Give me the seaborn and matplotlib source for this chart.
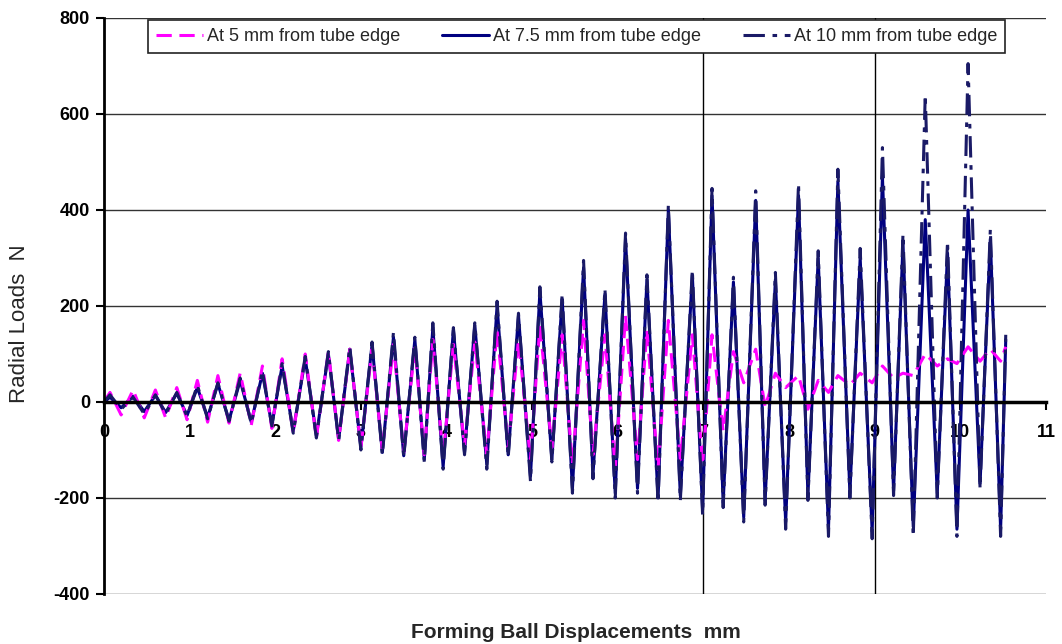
import numpy as np
import pandas as pd
import matplotlib
matplotlib.use("Agg")
import matplotlib.pyplot as plt
import seaborn as sns

# ---------------- data ----------------
x_start, x_end = 0.0, 10.53
x_peak = [0.07, 0.34, 0.60, 0.85, 1.09, 1.33, 1.59, 1.85, 2.08, 2.35, 2.62, 2.87, 3.13, 3.38,
          3.63, 3.84, 4.08, 4.33, 4.59, 4.84, 5.09, 5.35, 5.60, 5.85, 6.09, 6.34, 6.59, 6.87,
          7.10, 7.35, 7.61, 7.84, 8.11, 8.34, 8.57, 8.83, 9.09, 9.33, 9.59, 9.85, 10.09, 10.35]
x_trough = [0.20, 0.47, 0.72, 0.97, 1.21, 1.46, 1.72, 1.96, 2.21, 2.48, 2.74, 3.00, 3.25, 3.50,
            3.74, 3.96, 4.21, 4.47, 4.72, 4.98, 5.23, 5.47, 5.71, 5.97, 6.23, 6.47, 6.73, 6.99,
            7.23, 7.47, 7.72, 7.96, 8.22, 8.46, 8.71, 8.97, 9.22, 9.45, 9.73, 9.96, 10.23, 10.47]

# At 5 mm from tube edge
s5_start, s5_end = 0, 115
s5_peak = [20, 25, 25, 30, 45, 55, 60, 75, 90, 100, 105, 110, 110, 120, 115, 130, 120, 125, 150, 130,
           160, 140, 170, 140, 180, 150, 170, 140, 140, 105, 110, 60, 55, 45, 55, 60, 75, 60, 100, 90,
           115, 110]
s5_trough = [-27, -33, -33, -37, -42, -44, -48, -55, -65, -75, -80, -95, -100, -105, -110, -115, -90,
             -110, -95, -120, -95, -130, -110, -140, -120, -140, -120, -130, -60, 40, -10, 30, -15, 20,
             35, 40, 50, 55, 75, 80, 85, 85]

# At 7.5 mm from tube edge
s75_start, s75_end = 0, 130
s75_peak = [10, 12, 14, 18, 30, 38, 45, 60, 75, 90, 100, 110, 120, 135, 130, 155, 150, 160, 200, 180,
            230, 215, 280, 225, 340, 255, 400, 265, 430, 250, 420, 255, 430, 300, 460, 300, 470, 330,
            380, 310, 400, 340]
s75_trough = [-12, -20, -22, -28, -32, -38, -42, -48, -60, -70, -78, -95, -105, -112, -120, -135, -105,
              -130, -110, -155, -120, -180, -150, -190, -180, -200, -195, -225, -210, -240, -205, -250,
              -195, -265, -190, -270, -185, -260, -190, -265, -170, -265]

# At 10 mm from tube edge
s10_start, s10_end = 0, 140
s10_peak = [15, 10, 15, 20, 35, 40, 50, 65, 80, 95, 105, 115, 125, 145, 135, 165, 155, 165, 210, 185,
            240, 225, 295, 235, 352, 265, 410, 275, 445, 260, 440, 270, 455, 315, 485, 320, 530, 350,
            640, 335, 705, 360]
s10_trough = [-15, -25, -25, -30, -35, -40, -45, -50, -65, -75, -80, -100, -110, -115, -125, -140, -110,
              -140, -115, -165, -125, -190, -160, -200, -190, -210, -205, -235, -220, -250, -215, -265,
              -205, -280, -200, -285, -195, -280, -200, -280, -180, -280]

series_names = ["At 5 mm from tube edge", "At 7.5 mm from tube edge", "At 10 mm from tube edge"]
y_ticks = [-400, -200, 0, 200, 400, 600, 800]
x_ticks = [0, 1, 2, 3, 4, 5, 6, 7, 8, 9, 10, 11]
v_lines = [7, 9]


def interleave(start, peaks, troughs, end):
    out = [start]
    for p, t in zip(peaks, troughs):
        out += [p, t]
    out.append(end)
    return out


xs = interleave(x_start, x_peak, x_trough, x_end)
frames = []
for name, (st, pk, tr, en) in zip(series_names, [(s5_start, s5_peak, s5_trough, s5_end),
                                                  (s75_start, s75_peak, s75_trough, s75_end),
                                                  (s10_start, s10_peak, s10_trough, s10_end)]):
    frames.append(pd.DataFrame({"x": xs, "load": interleave(st, pk, tr, en), "series": name}))
df = pd.concat(frames, ignore_index=True)

# ---------------- style ----------------
sns.set_theme(style="white")
plt.rcParams["font.family"] = ["Liberation Sans", "DejaVu Sans"]
plt.rcParams["axes.unicode_minus"] = False

fig = plt.figure(figsize=(10.62, 6.44), dpi=100)
ax = fig.add_axes([104 / 1062, 1 - 594 / 644, 942 / 1062, 576 / 644])

styles = {
    series_names[0]: dict(color="#FF00FF", linestyle=(0, (5, 2.5)), lw=2.2, zorder=2.1),
    series_names[1]: dict(color="#000080", linestyle="-", lw=2.2, zorder=2.0),
    series_names[2]: dict(color="#1A1A66", linestyle=(0, (7, 2.5, 1.5, 2.5)), lw=2.2, zorder=2.2),
}
for name in series_names:
    sub = df[df["series"] == name]
    sns.lineplot(data=sub, x="x", y="load", ax=ax, sort=False, estimator=None,
                 label=name, **styles[name])

for y in y_ticks:
    ax.axhline(y, color="#333333", lw=1, zorder=1)
for v in v_lines:
    ax.axvline(v, color="black", lw=1, zorder=1)

ax.set_xlim(0, 11)
ax.set_ylim(-400, 800)
ax.set_xticks(x_ticks)
ax.set_yticks(y_ticks)
ax.set_xlabel("")
ax.set_ylabel("")

ax.spines["top"].set_visible(False)
ax.spines["right"].set_visible(False)
ax.spines["bottom"].set_position(("data", 0))
ax.spines["bottom"].set_linewidth(2.5)
ax.spines["bottom"].set_color("black")
ax.spines["left"].set_linewidth(2)
ax.spines["left"].set_color("black")

ax.tick_params(axis="x", bottom=True, direction="out", length=6, width=1.5, pad=10,
               labelsize=13, colors="black")
ax.tick_params(axis="y", left=True, direction="out", length=6, width=1.5, pad=4,
               labelsize=13, colors="black")
for lbl in ax.get_xticklabels():
    lbl.set_fontweight("bold")
    lbl.set_bbox(dict(facecolor="white", edgecolor="none", pad=1))
for lbl in ax.get_yticklabels():
    lbl.set_fontweight("bold")

leg = ax.legend(loc="upper left", bbox_to_anchor=(0.0467, 0.0, 0.9098, 0.9965), mode="expand",
                ncol=3, fontsize=13, frameon=True, fancybox=False, edgecolor="#222222",
                framealpha=1, handlelength=2.6, borderpad=0.45, handletextpad=0.2,
                borderaxespad=0)
leg.get_frame().set_linewidth(1.2)
leg.set_zorder(5)

fig.text(576 / 1062, 1 - 632 / 644, "Forming Ball Displacements  mm", ha="center", va="center",
         fontsize=15, fontweight="bold")
fig.text(20 / 1062, 1 - 324 / 644, "Radial Loads  N", ha="center", va="center", rotation=90,
         fontsize=16)

fig.savefig("out.png", dpi=100)
